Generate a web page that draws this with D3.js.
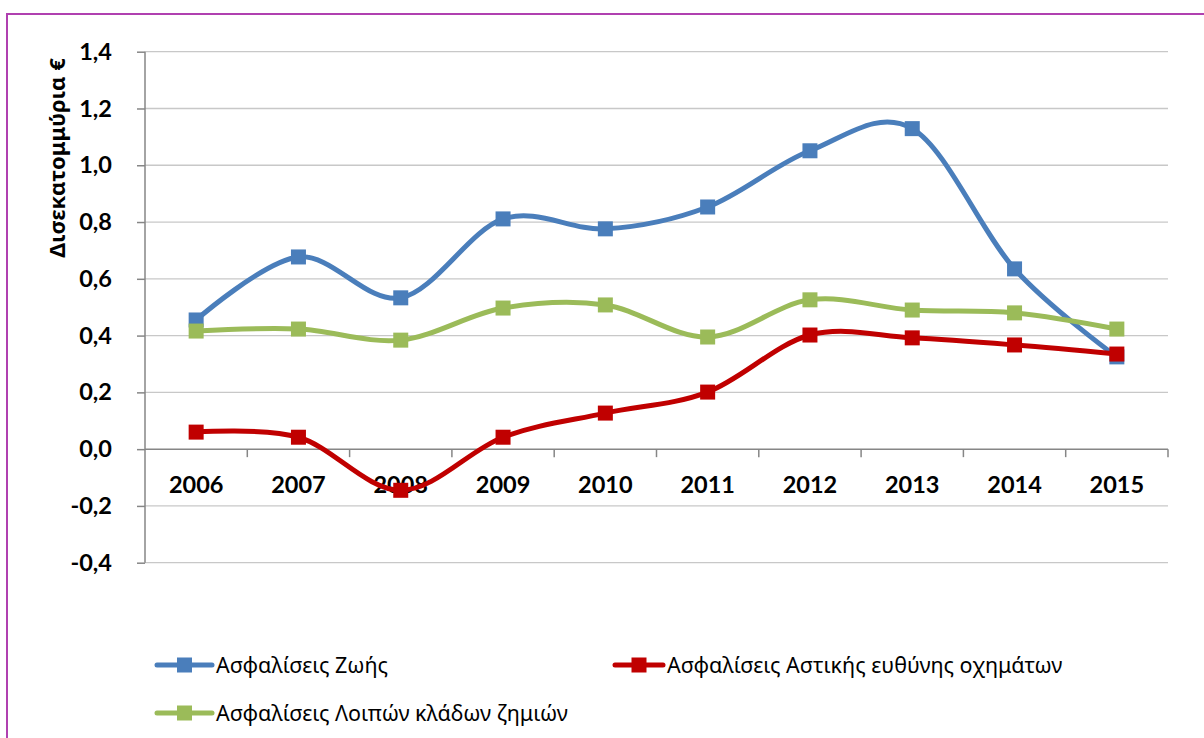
<!DOCTYPE html>
<html><head><meta charset="utf-8">
<script src="https://cdn.jsdelivr.net/npm/d3@7"></script>
<style>body{margin:0;background:#fff}svg{display:block}</style>
</head><body><svg id="c" width="1204" height="738"></svg>
<script>
const years = ["2006","2007","2008","2009","2010","2011","2012","2013","2014","2015"];
const lifeValues = [0.455,0.677,0.533,0.811,0.776,0.853,1.051,1.129,0.635,0.325];
const motorValues = [0.06,0.042,-0.145,0.042,0.127,0.201,0.402,0.392,0.367,0.335];
const otherValues = [0.416,0.423,0.384,0.497,0.508,0.395,0.526,0.49,0.48,0.423];
const seriesNames = ["Ασφαλίσεις Ζωής","Ασφαλίσεις Αστικής ευθύνης οχημάτων","Ασφαλίσεις Λοιπών κλάδων ζημιών"];
const seriesColors = ["#4a7ebb","#c00000","#9bbb59"];
const yTicks = [-0.4,-0.2,0,0.2,0.4,0.6,0.8,1.0,1.2,1.4];
const yTitle = "Δισεκατομμύρια €";

const svg = d3.select("#c");
const numFont = "Lato, 'Noto Sans', sans-serif";
const txtFont = "'Noto Sans', 'Open Sans', sans-serif";

svg.append("rect").attr("x",7).attr("y",14).attr("width",1210).attr("height",740)
  .attr("fill","none").attr("stroke","#b040b0").attr("stroke-width",2);

const pL=145, pR=1168, pT=51.7, pB=562.7;
const x = d3.scaleBand().domain(years).range([pL,pR]);
const y = d3.scaleLinear().domain([-0.4,1.4]).range([pB,pT]);

// gridlines
svg.append("g").selectAll("line").data(yTicks.filter(d=>d!==0)).join("line")
  .attr("x1",pL).attr("x2",pR).attr("y1",d=>y(d)).attr("y2",d=>y(d))
  .attr("stroke","#c8c8c8").attr("stroke-width",1.3);

// y axis
const yAxis = d3.axisLeft(y).tickValues(yTicks).tickSize(8).tickPadding(25)
  .tickFormat(d=>d3.format(".1f")(d).replace(".",",").replace("−","-"));
const gy = svg.append("g").attr("transform",`translate(${pL},0)`).call(yAxis);
gy.selectAll("path,line").attr("stroke","#868686").attr("stroke-width",1.5);
gy.select(".domain").attr("d",`M0,${pT}V${pB}`);
gy.selectAll("text").attr("font-family",numFont).attr("font-weight","bold")
  .attr("font-size",23.5).attr("fill","#000");

// x axis at zero
const xAxis = d3.axisBottom(x).tickSize(0).tickPadding(0);
const gx = svg.append("g").attr("transform",`translate(0,${y(0)})`).call(xAxis);
gx.select(".domain").attr("stroke","#868686").attr("stroke-width",1.5).attr("d",`M${pL},0H${pR}`);
gx.selectAll(".tick text").attr("y",27).attr("font-family",numFont).attr("font-weight","bold")
  .attr("font-size",23.5).attr("fill","#000");
const bounds = years.map(d=>x(d)+x.bandwidth());
gx.append("g").selectAll("line").data(bounds).join("line")
  .attr("x1",d=>d).attr("x2",d=>d).attr("y1",0).attr("y2",8)
  .attr("stroke","#868686").attr("stroke-width",1.5);

// y title
svg.append("text").attr("transform","translate(65,158) rotate(-90)")
  .attr("text-anchor","middle").attr("font-family",txtFont).attr("font-weight","bold")
  .attr("font-size",22).text(yTitle);

const allSeries = [lifeValues, motorValues, otherValues];
const line = d3.line().x((d,i)=>x(years[i])+x.bandwidth()/2).y(d=>y(d)).curve(d3.curveCatmullRom.alpha(0));
const order = [0,2,1];
const ms = 15;
order.forEach(si=>{
  const vals = allSeries[si];
  const g = svg.append("g");
  g.append("path").attr("d",line(vals)).attr("fill","none")
    .attr("stroke",seriesColors[si]).attr("stroke-width",5).attr("stroke-linejoin","round").attr("stroke-linecap","round");
  g.selectAll("rect").data(vals).join("rect")
    .attr("x",(d,i)=>x(years[i])+x.bandwidth()/2-ms/2).attr("y",d=>y(d)-ms/2)
    .attr("width",ms).attr("height",ms).attr("fill",seriesColors[si]);
});

// legend
const legendPos = [[157,665,55],[615,665,48],[157,713,55]];
seriesNames.forEach((n,i)=>{
  const [lx,ly,lw] = legendPos[i];
  const g = svg.append("g").attr("transform",`translate(${lx},${ly})`);
  g.append("line").attr("x1",0).attr("x2",lw).attr("y1",0).attr("y2",0)
    .attr("stroke",seriesColors[i]).attr("stroke-width",5).attr("stroke-linecap","round");
  g.append("rect").attr("x",lw/2-ms/2).attr("y",-ms/2).attr("width",ms).attr("height",ms).attr("fill",seriesColors[i]);
  g.append("text").attr("x",lw+4).attr("y",8).attr("font-family",txtFont).attr("font-size",21.5)
    .attr("fill","#000").text(n);
});
</script></body></html>
